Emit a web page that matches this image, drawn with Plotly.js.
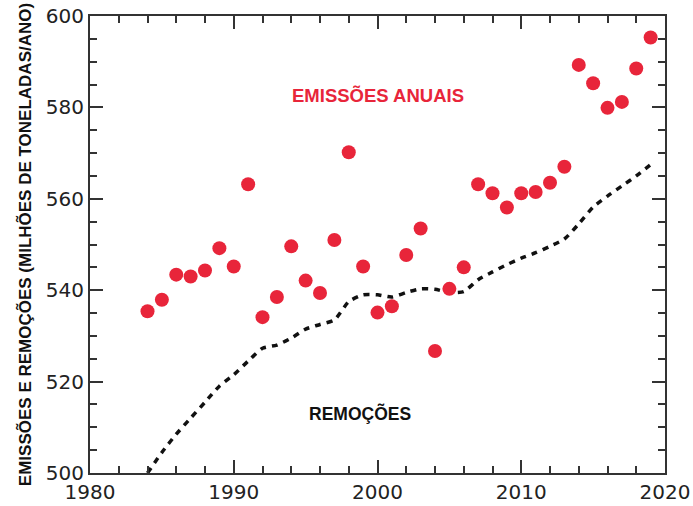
<!DOCTYPE html>
<html>
<head>
<meta charset="utf-8">
<script src="https://cdn.plot.ly/plotly-3.0.1.min.js"></script>
<style>html,body{margin:0;padding:0;background:#fff;}#chart{width:693px;height:506px;}</style>
</head>
<body>
<div id="chart"></div>
<script>
const years = [1984,1985,1986,1987,1988,1989,1990,1991,1992,1993,1994,1995,1996,1997,1998,1999,2000,2001,2002,2003,2004,2005,2006,2007,2008,2009,2010,2011,2012,2013,2014,2015,2016,2017,2018,2019];
const emissions = [535.4,537.9,543.4,543.0,544.3,549.2,545.2,563.2,534.1,538.5,549.6,542.1,539.4,551.0,570.2,545.2,535.1,536.5,547.7,553.5,526.7,540.3,545.0,563.2,561.2,558.1,561.2,561.5,563.5,567.0,589.3,585.3,579.9,581.2,588.5,595.3];
const removals = [500.0,504.5,508.5,512.0,515.5,519.0,521.5,524.5,527.3,528.0,529.5,531.5,532.5,533.5,537.5,539.0,539.0,538.5,539.5,540.3,540.2,539.5,539.7,542.3,544.0,545.6,547.0,548.2,549.6,551.2,554.5,558.2,560.6,562.8,565.0,567.5];
const labelEmissions = "EMISSÕES ANUAIS";
const labelRemovals = "REMOÇÕES";
const yTitle = "EMISSÕES E REMOÇÕES (MILHÕES DE TONELADAS/ANO)";

const traces = [
  {x: years, y: removals, type: 'scatter', mode: 'lines',
   line: {color: '#111', width: 3.5, dash: '6px,6px', shape: 'spline', smoothing: 0.6},
   hoverinfo: 'skip', showlegend: false},
  {x: years, y: emissions, type: 'scatter', mode: 'markers',
   marker: {color: '#E8253A', size: 14, line: {width: 0}},
   showlegend: false}
];

function axis(extra) {
  return Object.assign({
    showgrid: false, zeroline: false, showline: true, linecolor: '#333', linewidth: 2,
    mirror: 'allticks', ticks: 'inside', ticklen: 13, tickwidth: 2, tickcolor: '#333',
    tickfont: {family: 'DejaVu Sans, sans-serif', size: 20, color: '#222'}
  }, extra);
}

const layout = {
  width: 693, height: 506,
  margin: {l: 90, r: 28, t: 16, b: 33},
  paper_bgcolor: '#fff', plot_bgcolor: '#fff',
  xaxis: axis({
    range: [1980, 2020], dtick: 10, tick0: 1980,
    minor: {dtick: 2, ticklen: 7, tickwidth: 2, tickcolor: '#333', ticks: 'inside'}
  }),
  yaxis: axis({
    range: [500, 600], dtick: 20, tick0: 500,
    minor: {dtick: 5, ticklen: 7, tickwidth: 2, tickcolor: '#333', ticks: 'inside'},
    title: {text: yTitle, standoff: 10,
            font: {family: 'Liberation Sans Narrow, Arial Narrow, Liberation Sans, sans-serif', size: 17, color: '#111', weight: 'bold'}}
  }),
  annotations: [
    {x: 2000, y: 582.5, xref: 'x', yref: 'y', text: labelEmissions, showarrow: false,
     font: {family: 'Liberation Sans, Arial, sans-serif', size: 18.5, color: '#E8253A', weight: 'bold'}},
    {x: 1998.8, y: 513.0, xref: 'x', yref: 'y', text: labelRemovals, showarrow: false,
     font: {family: 'Liberation Sans, Arial, sans-serif', size: 17.5, color: '#111', weight: 'bold'}}
  ]
};

Plotly.newPlot('chart', traces, layout, {staticPlot: true, displayModeBar: false});
</script>
</body>
</html>
